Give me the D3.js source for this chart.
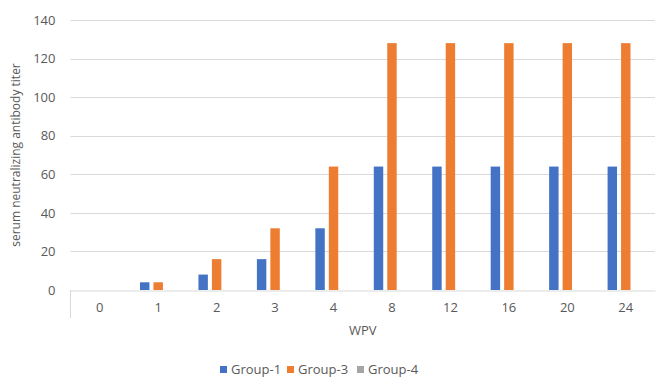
<!DOCTYPE html>
<html>
<head>
<meta charset="utf-8">
<script src="https://cdn.jsdelivr.net/npm/d3@7"></script>
<style>
  html, body { margin: 0; padding: 0; background: #fff; }
  svg text { font-family: "Open Sans", "Noto Sans", sans-serif; fill: #595959; }
</style>
</head>
<body>
<svg id="chart" width="657" height="379"></svg>
<script>
// Weeks post vaccination and serum neutralizing antibody titers per group
const categories = ["0", "1", "2", "3", "4", "8", "12", "16", "20", "24"];
const seriesNames = ["Group-1", "Group-3", "Group-4"];
const group1 = [0, 4, 8, 16, 32, 64, 64, 64, 64, 64];
const group3 = [0, 4, 16, 32, 64, 128, 128, 128, 128, 128];
const group4 = [0, 0, 0, 0, 0, 0, 0, 0, 0, 0];
const yTicks = [0, 20, 40, 60, 80, 100, 120, 140];
const colors = ["#4472C4", "#ED7D31", "#A5A5A5"];

const seriesValues = [group1, group3, group4];
const svg = d3.select("#chart");

const plot = { left: 70.5, right: 655, top: 20, bottom: 290 };

const x = d3.scaleBand()
  .domain(categories)
  .range([plot.left, plot.right])
  .paddingInner(0)
  .paddingOuter(0);

const xInner = d3.scaleBand()
  .domain(seriesNames)
  .range([0, x.bandwidth()])
  .paddingInner(0.3)
  .paddingOuter(0.82);

const y = d3.scaleLinear()
  .domain([0, 140])
  .range([plot.bottom, plot.top]);

// Horizontal gridlines
svg.append("g")
  .selectAll("line")
  .data(yTicks.filter(d => d > 0))
  .join("line")
  .attr("x1", plot.left)
  .attr("x2", plot.right)
  .attr("y1", d => Math.round(y(d)) + 0.5)
  .attr("y2", d => Math.round(y(d)) + 0.5)
  .attr("stroke", "#d9d9d9")
  .attr("stroke-width", 1);

// Y axis labels
const yAxis = d3.axisLeft(y).tickValues(yTicks).tickSize(0).tickPadding(0);
const gy = svg.append("g")
  .attr("transform", `translate(${plot.left - 15},0)`)
  .call(yAxis);
gy.select(".domain").remove();
gy.selectAll("text")
  .attr("font-size", 13)
  .style("font-family", "'Open Sans', 'Noto Sans', sans-serif")
  .attr("fill", "#595959");

// Bars
const rows = categories.map((c, i) => ({
  cat: c,
  vals: seriesNames.map((s, j) => ({ name: s, value: seriesValues[j][i], color: colors[j] }))
}));

svg.append("g")
  .selectAll("g")
  .data(rows)
  .join("g")
  .attr("transform", d => `translate(${x(d.cat)},0)`)
  .selectAll("rect")
  .data(d => d.vals)
  .join("rect")
  .attr("x", d => xInner(d.name))
  .attr("width", xInner.bandwidth())
  .attr("y", d => y(d.value))
  .attr("height", d => y(0) - y(d.value))
  .attr("fill", d => d.color);

// X axis baseline and category labels
const xAxis = d3.axisBottom(x).tickSize(0).tickPadding(12);
const gx = svg.append("g")
  .attr("transform", `translate(0,${Math.round(plot.bottom) + 0.5})`)
  .call(xAxis);
gx.select(".domain").attr("stroke", "#d9d9d9");
gx.selectAll("text")
  .attr("font-size", 13)
  .style("font-family", "'Open Sans', 'Noto Sans', sans-serif")
  .attr("fill", "#595959");

// Left boundary tick of the category axis
svg.append("line")
  .attr("x1", plot.left).attr("x2", plot.left)
  .attr("y1", plot.bottom).attr("y2", plot.bottom + 28)
  .attr("stroke", "#d9d9d9");

// Axis titles
svg.append("text")
  .attr("x", (plot.left + plot.right) / 2)
  .attr("y", 335)
  .attr("text-anchor", "middle")
  .attr("font-size", 13)
  .text("WPV");

svg.append("text")
  .attr("transform", `translate(20,${(plot.top + plot.bottom) / 2}) rotate(-90)`)
  .attr("text-anchor", "middle")
  .attr("font-size", 12)
  .text("serum neutralizing antibody titer");

// Legend
const legendX = [220, 287, 357];
const legend = svg.append("g")
  .selectAll("g")
  .data(seriesNames)
  .join("g")
  .attr("transform", (d, i) => `translate(${legendX[i]},366)`);
legend.append("rect")
  .attr("width", 7).attr("height", 7)
  .attr("y", 0)
  .attr("fill", (d, i) => colors[i]);
legend.append("text")
  .attr("x", 11)
  .attr("y", 8)
  .attr("font-size", 13)
  .text(d => d);
</script>
</body>
</html>
